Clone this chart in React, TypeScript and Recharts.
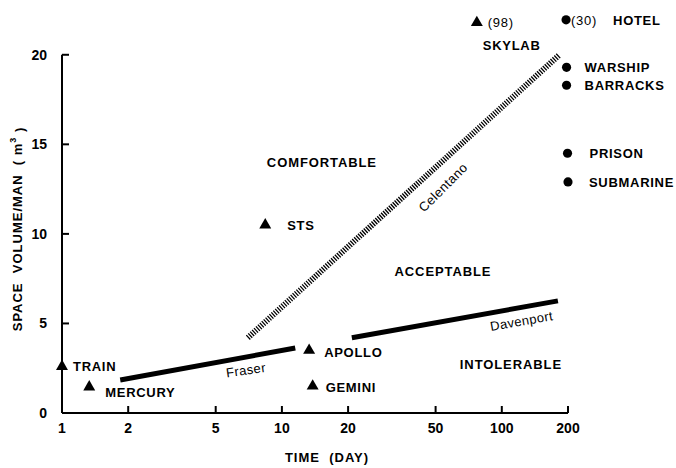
import React from 'react';
import {
  ComposedChart,
  XAxis,
  YAxis,
  Line,
  Scatter,
  Symbols,
  ReferenceLine,
} from 'recharts';

// mission duration (days) vs. habitable volume per crew member (m³)
const spacecraft = [
  { name: 'TRAIN', day: 1, vol: 2.6 },
  { name: 'MERCURY', day: 1.33, vol: 1.45 },
  { name: 'STS', day: 8.4, vol: 10.5 },
  { name: 'APOLLO', day: 13.3, vol: 3.5 },
  { name: 'GEMINI', day: 13.8, vol: 1.5 },
  { name: 'SKYLAB', day: 77, vol: 21.8, note: '(98)' },
];

const groundHabitats = [
  { name: 'HOTEL', day: 196, vol: 21.95, note: '(30)' },
  { name: 'WARSHIP', day: 197, vol: 19.3 },
  { name: 'BARRACKS', day: 197, vol: 18.3 },
  { name: 'PRISON', day: 199, vol: 14.5 },
  { name: 'SUBMARINE', day: 200, vol: 12.9 },
];

const fraser = [
  { day: 1.84, vol: 1.84 },
  { day: 11.5, vol: 3.63 },
];
const davenport = [
  { day: 20.8, vol: 4.2 },
  { day: 180, vol: 6.26 },
];
const celentano = [
  { day: 7.0, vol: 4.2 },
  { day: 183, vol: 20.0 },
];

const regionLabels = [
  { text: 'COMFORTABLE', day: 15.2, vol: 13.97 },
  { text: 'ACCEPTABLE', day: 54, vol: 7.9 },
  { text: 'INTOLERABLE', day: 110, vol: 2.74 },
];

const curveLabels = [
  { text: 'Celentano', day: 54, vol: 12.6, angle: -45 },
  { text: 'Fraser', day: 6.86, vol: 2.4, angle: -8 },
  { text: 'Davenport', day: 123, vol: 5.14, angle: -10 },
];

const xTicks = [1, 2, 5, 10, 20, 50, 100, 200];
const yTicks = [0, 5, 10, 15, 20];

// label placement (pixels from the marker)
const labelOffset: Record<string, { dx: number; dy: number }> = {
  TRAIN: { dx: 11, dy: 0 },
  MERCURY: { dx: 16, dy: 5 },
  STS: { dx: 22, dy: 0 },
  APOLLO: { dx: 15, dy: 2 },
  GEMINI: { dx: 13, dy: 1 },
  SKYLAB: { dx: 6, dy: 23 },
  HOTEL: { dx: 47, dy: 0 },
  WARSHIP: { dx: 18, dy: 0 },
  BARRACKS: { dx: 18, dy: 0 },
  PRISON: { dx: 22, dy: 0 },
  SUBMARINE: { dx: 21, dy: 0 },
};

const FONT = '"Liberation Sans", Arial, Helvetica, sans-serif';
const SPACING = 0.7;

const makeMarker = (type: 'triangle' | 'circle') => (props: any) => {
  const { cx, cy, payload } = props;
  const off = labelOffset[payload.name] || { dx: 14, dy: 0 };
  return (
    <g>
      <Symbols cx={cx} cy={cy} type={type} size={type === 'triangle' ? 62 : 66} fill="#000" />
      {payload.note && (
        <text
          x={cx + (type === 'triangle' ? 11 : 5)}
          y={cy}
          dy="0.36em"
          fontFamily={FONT}
          fontSize={13}
          letterSpacing={SPACING}
          fill="#000"
        >
          {payload.note}
        </text>
      )}
      <text
        x={cx + off.dx}
        y={cy + off.dy}
        dy="0.36em"
        fontFamily={FONT}
        fontSize={13}
        fontWeight="bold"
        letterSpacing={SPACING}
        fill="#000"
      >
        {payload.name}
      </text>
    </g>
  );
};

const regionText = (props: any) => {
  const { cx, cy, payload } = props;
  return (
    <text
      x={cx}
      y={cy}
      dy="0.36em"
      textAnchor="middle"
      fontFamily={FONT}
      fontSize={13}
      fontWeight="bold"
      letterSpacing={0.9}
      fill="#000"
    >
      {payload.text}
    </text>
  );
};

const curveText = (props: any) => {
  const { cx, cy, payload } = props;
  return (
    <text
      x={cx}
      y={cy}
      dy="0.36em"
      textAnchor="middle"
      fontFamily={FONT}
      fontSize={13}
      letterSpacing={0.4}
      fill="#000"
      transform={`rotate(${payload.angle} ${cx} ${cy})`}
    >
      {payload.text}
    </text>
  );
};

const tickStyle = { fontFamily: FONT, fontSize: 14, fontWeight: 'bold', fill: '#000' };

export default function App() {
  return (
    <div style={{ position: 'absolute', left: 0, top: 0, width: 676, height: 468, background: '#fff' }}>
      <ComposedChart
        width={676}
        height={468}
        margin={{ top: 10, right: 108, bottom: 25, left: 22 }}
      >
        <XAxis
          dataKey="day"
          type="number"
          scale="log"
          domain={[1, 200]}
          ticks={xTicks}
          interval={0}
          height={30}
          tickSize={-7}
          tickMargin={17}
          tick={tickStyle}
          axisLine={{ stroke: '#000', strokeWidth: 2 }}
          tickLine={{ stroke: '#000', strokeWidth: 2 }}
        />
        <YAxis
          dataKey="vol"
          type="number"
          domain={[0, 22.5]}
          ticks={yTicks}
          interval={0}
          width={40}
          tickSize={-7}
          tickMargin={22}
          tick={tickStyle}
          axisLine={false}
          tickLine={{ stroke: '#000', strokeWidth: 2 }}
        />
        <ReferenceLine
          segment={[
            { x: 1, y: 0 },
            { x: 1, y: 20 },
          ]}
          stroke="#000"
          strokeWidth={2}
        />
        <Line
          data={fraser}
          dataKey="vol"
          stroke="#000"
          strokeWidth={5}
          dot={false}
          activeDot={false}
          isAnimationActive={false}
        />
        <Line
          data={davenport}
          dataKey="vol"
          stroke="#000"
          strokeWidth={5}
          dot={false}
          activeDot={false}
          isAnimationActive={false}
        />
        <Line
          data={celentano}
          dataKey="vol"
          stroke="#000"
          strokeWidth={6}
          strokeDasharray="1.3 1.3"
          dot={false}
          activeDot={false}
          isAnimationActive={false}
        />
        <Scatter data={spacecraft} shape={makeMarker('triangle')} isAnimationActive={false} />
        <Scatter data={groundHabitats} shape={makeMarker('circle')} isAnimationActive={false} />
        <Scatter data={regionLabels} shape={regionText} isAnimationActive={false} />
        <Scatter data={curveLabels} shape={curveText} isAnimationActive={false} />
      </ComposedChart>
      <svg
        width={676}
        height={468}
        style={{ position: 'absolute', left: 0, top: 0, pointerEvents: 'none' }}
      >
        <text
          x={327}
          y={457}
          dy="0.36em"
          textAnchor="middle"
          fontFamily={FONT}
          fontSize={13}
          fontWeight="bold"
          letterSpacing={1}
          style={{ whiteSpace: 'pre' }}
          fill="#000"
        >
          {'TIME  (DAY)'}
        </text>
        <text
          x={17}
          y={229}
          dy="0.36em"
          textAnchor="middle"
          fontFamily={FONT}
          fontSize={13}
          fontWeight="bold"
          letterSpacing={1}
          style={{ whiteSpace: 'pre' }}
          fill="#000"
          transform="rotate(-90 17 229)"
        >
          {'SPACE  VOLUME/MAN  ( m'}
          <tspan fontSize={9} dy="-0.6em">3</tspan>
          <tspan dy="0.6em">{' )'}</tspan>
        </text>
      </svg>
    </div>
  );
}
